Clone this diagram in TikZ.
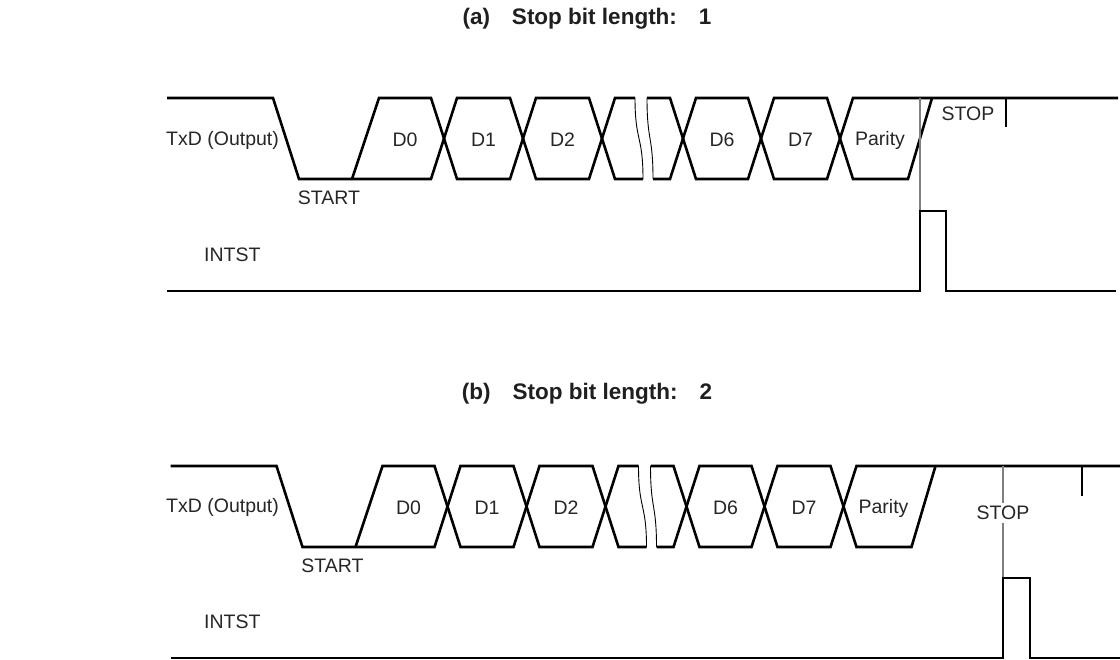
\documentclass[tikz,border=0pt]{standalone}
\usepackage{fontspec}
\setmainfont{Liberation Sans}
\begin{document}
\begin{tikzpicture}[x=1pt,y=-1pt,
  sig/.style={line width=2.6pt, line join=miter, black},
  brk/.style={line width=0.9pt, black},
  guide/.style={line width=1.2pt, black!50},
  lbl/.style={font=\fontsize{19.5}{23}\selectfont, text=black!85, inner sep=0pt},
  ttl/.style={font=\fontsize{22.5}{26}\selectfont\bfseries, text=black!88, inner sep=0pt}]
\useasboundingbox (0,0) rectangle (1120,660);

\newcommand\txdwave[2]{%
  \draw[sig] (167,98)--(273,98)--(299,179)--(431,179)--(457,98)--(510,98)--(536,179)--(589,179)--(615,98)--(635,98);
  \draw[sig] (352,179)--(379,98)--(431,98)--(457,179)--(510,179)--(536,98)--(589,98)--(615,179)--(643,179);
  \draw[sig] (647,98)--(670,98)--(696,179)--(748,179)--(774,98)--(827,98)--(853,179)--(908,179)--(932,98);
  \draw[sig] (653,179)--(670,179)--(696,98)--(748,98)--(774,179)--(827,179)--(853,98)--(#2,98);
  \draw[brk] (635,98) .. controls (635,142) and (643,135) .. (643,179);
  \draw[brk] (647,98) .. controls (647,142) and (653,135) .. (653,179);
  \node[lbl] (#1d0) at (405,140) {D0};
  \node[lbl] (#1d1) at (483.5,140) {D1};
  \node[lbl] (#1d2) at (562.5,140) {D2};
  \node[lbl] (#1d6) at (722,140) {D6};
  \node[lbl] (#1d7) at (800.5,140) {D7};
  \node[lbl] (#1par) at (880,140) {Parity};
  \node[lbl] (#1start) at (329,198) {START};
}

% ---------- (a) ----------
\node[ttl] (titlea) at (587,19) {(a)\hspace{22pt}Stop bit length:\hspace{22pt}1};
\node[lbl, anchor=west] (txda) at (166,140) {TxD (Output)};
\node[lbl, anchor=west] (intsta) at (204,255) {INTST};
\txdwave{a}{1118}
\draw[guide] (920,98) -- (920,211);
\node[lbl] (stopa) at (968,114) {STOP};
\draw[sig] (1006,98) -- (1006,127);
\draw[sig] (167,291) -- (920,291) -- (920,211) -- (946,211) -- (946,291) -- (1116,291);

% ---------- (b) ----------
\node[ttl] (titleb) at (587,394) {(b)\hspace{22pt}Stop bit length:\hspace{22pt}2};
\node[lbl, anchor=west] (txdb) at (166,507) {TxD (Output)};
\node[lbl, anchor=west] (intstb) at (204,622) {INTST};
\begin{scope}[shift={(3.5,368)}]
  \txdwave{b}{1118}
\end{scope}
\draw[guide] (1003,466) -- (1003,578);
\node[lbl, fill=white, inner sep=3pt] (stopb) at (1003,513) {STOP};
\draw[sig] (1082,466) -- (1082,496);
\draw[sig] (171,658) -- (1003,658) -- (1003,578) -- (1030,578) -- (1030,658) -- (1120,658);
\end{tikzpicture}
\end{document}
